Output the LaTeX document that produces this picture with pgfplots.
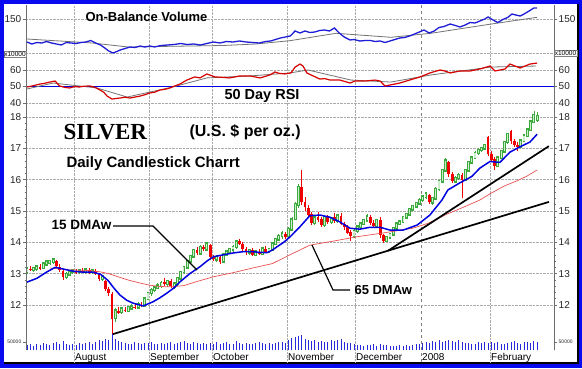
\documentclass[border=0pt]{standalone}
\usepackage{pgfplots}
\pgfplotsset{compat=1.18}
\usepackage{pgfplotstable}
\usepackage{fontspec}
\setmainfont{Liberation Sans}
\newfontfamily\serifbf{Liberation Serif}

\definecolor{frameblue}{RGB}{10,10,240}
\definecolor{upgreen}{RGB}{60,170,60}
\definecolor{upfill}{RGB}{205,238,205}
\definecolor{downred}{RGB}{240,0,0}
\definecolor{mablue}{RGB}{0,0,225}
\definecolor{obvblue}{RGB}{30,30,215}
\definecolor{rsired}{RGB}{215,0,0}
\definecolor{magray}{RGB}{115,115,115}
\definecolor{maredthin}{RGB}{235,80,80}
\definecolor{axisgray}{RGB}{110,110,110}
\definecolor{gridgray}{RGB}{170,170,170}
\definecolor{volblue}{RGB}{40,40,220}

\pgfplotstableread{
x o h l c v
0 13.05 13.20 13.00 13.15 30
1 13.15 13.25 13.08 13.12 35
2 13.12 13.22 13.05 13.18 28
3 13.15 13.28 13.10 13.22 40
4 13.20 13.30 13.12 13.16 33
5 13.18 13.38 13.15 13.32 45
6 13.30 13.42 13.25 13.38 38
7 13.35 13.45 13.28 13.40 30
8 13.38 13.50 13.30 13.44 42
9 13.40 13.45 13.20 13.25 50
10 13.22 13.30 13.05 13.12 36
11 13.10 13.15 12.80 12.88 55
12 12.90 13.05 12.82 12.98 40
13 12.98 13.12 12.92 13.05 33
14 13.05 13.15 12.98 13.10 38
15 13.08 13.15 13.00 13.04 30
16 13.05 13.14 13.00 13.10 45
17 13.10 13.18 13.02 13.06 35
18 13.05 13.16 13.00 13.12 42
19 13.12 13.18 13.00 13.04 48
20 13.05 13.15 12.98 13.10 40
21 13.10 13.15 12.95 13.00 52
22 12.98 13.02 12.78 12.82 60
23 12.85 12.95 12.75 12.90 55
24 12.75 12.80 12.45 12.50 70
25 12.50 12.58 12.30 12.38 65
26 12.35 12.40 11.07 11.55 100
27 11.60 11.90 11.45 11.82 70
28 11.80 11.92 11.70 11.76 55
29 11.78 11.95 11.72 11.88 48
30 11.85 11.95 11.78 11.82 45
31 11.82 11.98 11.78 11.92 40
32 11.90 12.02 11.85 11.95 38
33 11.95 12.05 11.88 11.92 50
34 11.92 12.08 11.88 12.02 42
35 12.00 12.10 11.92 11.98 36
36 11.98 12.25 11.95 12.20 44
37 12.20 12.42 12.15 12.38 45
38 12.38 12.55 12.30 12.48 52
39 12.48 12.62 12.40 12.55 40
40 12.55 12.70 12.50 12.62 38
41 12.62 12.75 12.55 12.70 46
42 12.72 12.85 12.60 12.66 35
43 12.68 12.80 12.58 12.75 42
44 12.75 12.82 12.55 12.60 50
45 12.60 12.72 12.52 12.68 38
46 12.68 12.90 12.62 12.85 44
47 12.85 13.10 12.80 13.05 48
48 13.05 13.25 13.00 13.20 55
49 13.20 13.45 13.15 13.40 42
50 13.40 13.60 13.35 13.55 40
51 13.55 13.80 13.50 13.75 50
52 13.75 13.85 13.60 13.65 45
53 13.65 13.90 13.60 13.85 38
54 13.85 13.92 13.72 13.78 42
55 13.78 14.00 13.75 13.95 40
56 13.90 13.95 13.45 13.52 45
57 13.52 13.60 13.40 13.46 40
58 13.46 13.58 13.38 13.52 52
59 13.52 13.58 13.30 13.38 38
60 13.40 13.65 13.35 13.60 42
61 13.60 13.75 13.55 13.70 48
62 13.70 13.82 13.62 13.78 35
63 13.78 13.90 13.70 13.85 40
64 13.85 14.08 13.80 14.02 55
65 14.05 14.12 13.90 13.95 42
66 13.95 14.00 13.72 13.78 38
67 13.78 13.85 13.60 13.68 45
68 13.68 13.80 13.60 13.75 40
69 13.75 13.82 13.55 13.60 36
70 13.60 13.75 13.55 13.70 44
71 13.70 13.78 13.58 13.64 50
72 13.64 13.85 13.60 13.80 42
73 13.80 13.88 13.65 13.70 38
74 13.70 13.82 13.65 13.78 46
75 13.78 14.00 13.72 13.95 40
76 13.95 14.15 13.90 14.10 44
77 14.10 14.25 14.05 14.20 52
78 14.20 14.35 14.12 14.28 48
79 14.28 14.32 14.10 14.18 45
80 14.20 14.48 14.15 14.42 60
81 14.42 14.80 14.38 14.72 75
82 14.75 15.30 14.70 15.22 80
83 15.20 15.85 15.10 15.75 85
84 15.75 16.30 15.20 15.30 95
85 15.30 15.45 15.00 15.12 70
86 15.10 15.20 14.80 14.88 65
87 14.90 14.98 14.55 14.62 55
88 14.62 14.85 14.55 14.78 60
89 14.80 14.98 14.65 14.70 50
90 14.75 14.80 14.48 14.55 58
91 14.55 14.85 14.50 14.80 52
92 14.80 14.88 14.60 14.66 48
93 14.66 14.82 14.60 14.76 60
94 14.80 14.95 14.62 14.68 55
95 14.68 14.90 14.62 14.85 62
96 14.85 14.92 14.55 14.60 70
97 14.60 14.65 14.40 14.48 50
98 14.48 14.55 14.25 14.30 42
99 14.32 14.40 14.05 14.20 45
100 14.20 14.42 14.15 14.36 35
101 14.36 14.55 14.30 14.50 30
102 14.50 14.65 14.42 14.60 32
103 14.60 14.75 14.55 14.70 28
104 14.70 14.90 14.65 14.82 33
105 14.82 14.88 14.55 14.62 30
106 14.62 14.70 14.45 14.52 35
107 14.52 14.75 14.48 14.70 28
108 14.72 14.80 14.15 14.22 38
109 14.22 14.28 13.98 14.05 32
110 14.05 14.20 14.00 14.16 30
111 14.16 14.30 14.10 14.26 27
112 14.26 14.50 14.22 14.45 25
113 14.45 14.65 14.40 14.60 28
114 14.60 14.72 14.55 14.66 30
115 14.66 14.85 14.62 14.80 26
116 14.80 14.95 14.75 14.90 32
117 14.90 15.10 14.85 15.05 28
118 15.05 15.20 15.00 15.15 34
119 15.15 15.30 15.08 15.25 36
120 15.25 15.40 15.20 15.35 40
121 15.35 15.52 15.30 15.45 45
122 15.45 15.60 15.38 15.55 50
123 15.52 15.55 15.22 15.28 42
124 15.28 15.45 15.20 15.40 55
125 15.40 15.75 15.35 15.70 48
126 15.70 16.00 15.65 15.95 60
127 15.95 16.35 15.90 16.30 52
128 16.30 16.70 16.25 16.60 58
129 16.55 16.60 16.10 16.18 65
130 16.18 16.25 15.88 15.95 55
131 15.95 16.12 15.90 16.05 48
132 16.05 16.22 16.00 16.15 60
133 16.15 16.20 15.40 16.00 50
134 16.00 16.35 15.95 16.30 45
135 16.30 16.60 16.25 16.55 42
136 16.55 16.75 16.50 16.70 38
137 16.70 16.90 16.65 16.85 40
138 16.85 17.00 16.80 16.95 48
139 16.95 17.05 16.88 17.00 44
140 17.00 17.15 16.95 17.10 52
141 17.35 17.40 16.75 16.82 45
142 16.82 16.90 16.55 16.62 50
143 16.65 16.72 16.30 16.45 42
144 16.45 16.75 16.40 16.70 48
145 16.70 16.95 16.65 16.90 40
146 16.90 17.25 16.85 17.20 38
147 17.20 17.50 17.15 17.45 45
148 17.55 17.60 17.15 17.25 50
149 17.25 17.30 17.05 17.10 55
150 17.12 17.20 16.90 17.05 42
151 17.05 17.30 17.00 17.25 40
152 17.25 17.45 17.20 17.40 48
153 17.40 17.65 17.35 17.60 52
154 17.60 17.90 17.55 17.85 45
155 17.85 18.20 17.80 18.05 55
156 17.92 18.15 17.85 18.02 50
}\candles

\pgfplotsset{
  panel/.style={
    scale only axis, width=528pt, height=345pt,
    at={(26pt,18pt)}, anchor=south west,
    xmin=-0.3, xmax=161.16,
    axis x line=none,
    axis line style={axisgray, line width=0.6pt},
    tick align=outside,
    major tick length=3pt, minor tick length=1.5pt,
    tick style={axisgray, line width=0.5pt},
    /pgf/number format/assume math mode=true,
    yticklabel style={font=\fontsize{10}{12}\selectfont, inner sep=1.5pt, text=black!85},
    ymajorgrids, grid style={gridgray, densely dotted, line width=0.5pt},
  },
  leftpanel/.style={panel, axis y line*=left},
  rightpanel/.style={panel, axis y line*=right, ymajorgrids=false},
  candle/.style={draw=none, mark=none, forget plot,
    error bars/y dir=both, error bars/y explicit, error bars/error mark=none},
}

\begin{document}
\begin{tikzpicture}[x=1pt,y=1pt]
\fill[frameblue] (0,0) rectangle (582,368);
\fill[black] (4,4) rectangle (579,364);
\fill[white] (4,6) rectangle (577,364);
\useasboundingbox (0,0) rectangle (582,368);

% base axis: month grid lines and labels
\begin{axis}[
  scale only axis, width=528pt, height=357pt,
  at={(26pt,6pt)}, anchor=south west,
  xmin=-0.3, xmax=161.16, ymin=0, ymax=1,
  axis line style={draw=none},
  ytick=\empty,
  xtick={14.37,37.31,56.57,79.5,100.3,141.6},
  xticklabels={August,September,October,November,December,February},
  extra x ticks={120.5}, extra x tick labels={2008},
  extra x tick style={grid style={gray, dashed, line width=0.6pt}},
  xmajorgrids, grid style={gridgray, densely dotted, line width=0.5pt},
  major tick length=0pt,
  xticklabel style={anchor=base west, font=\fontsize{10}{12}\selectfont, inner sep=0pt, xshift=1pt, yshift=1.5pt},
]
\end{axis}

% volume
\begin{axis}[leftpanel, ymin=0, ymax=2156.25, ytick={50}, yticklabels={50000},
  ymajorgrids=false, axis x line*=bottom, xtick=\empty,
  yticklabel style={font=\fontsize{5}{6}\selectfont}]
\addplot[ycomb, volblue, line width=0.8pt] table[x=x, y=v] {\candles};
\end{axis}

% price
\begin{axis}[leftpanel, ymin=10.563, ymax=21.575, ytick={12,13,...,18}, minor y tick num=4]
% wicks
\addplot[candle, restrict expr to domain={\thisrow{c}-\thisrow{o}}{0:100},
  error bars/error bar style={draw=upgreen, line width=0.7pt}]
  table[x=x, y expr={(\thisrow{h}+\thisrow{l})/2}, y error expr={(\thisrow{h}-\thisrow{l})/2}] {\candles};
\addplot[candle, restrict expr to domain={\thisrow{o}-\thisrow{c}}{0.00001:100},
  error bars/error bar style={draw=downred, line width=0.7pt}]
  table[x=x, y expr={(\thisrow{h}+\thisrow{l})/2}, y error expr={(\thisrow{h}-\thisrow{l})/2}] {\candles};
% bodies
\addplot[candle, restrict expr to domain={\thisrow{c}-\thisrow{o}}{0:100},
  error bars/error bar style={draw=upgreen, line width=2.8pt, line cap=rect}]
  table[x=x, y expr={(\thisrow{o}+\thisrow{c})/2}, y error expr={abs(\thisrow{c}-\thisrow{o})/2}] {\candles};
\addplot[candle, restrict expr to domain={\thisrow{c}-\thisrow{o}}{0:100},
  error bars/error bar style={draw=upfill, line width=1.1pt}]
  table[x=x, y expr={(\thisrow{o}+\thisrow{c})/2}, y error expr={abs(\thisrow{c}-\thisrow{o})/2}] {\candles};
\addplot[candle, restrict expr to domain={\thisrow{o}-\thisrow{c}}{0.00001:100},
  error bars/error bar style={draw=downred, line width=2.8pt}]
  table[x=x, y expr={(\thisrow{o}+\thisrow{c})/2}, y error expr={abs(\thisrow{c}-\thisrow{o})/2}] {\candles};
% 65 DMAw
\addplot[maredthin, line width=0.7pt] coordinates {
(7,13.18) (13,13.12) (19,13.1) (22.3,13.06) (25,13.0) (28.4,12.88) (31.5,12.78)
(34.6,12.7) (37.6,12.63) (40.7,12.59) (44,12.58) (48,12.62) (52,12.75) (57,12.9)
(63,13.03) (69,13.18) (75,13.32) (80.4,13.6) (86.5,13.91) (92.7,14.02) (101,14.18)
(109,14.3) (118,14.45) (123,14.62) (128,14.88) (133,15.1) (138.5,15.35) (141.6,15.55)
(146,15.8) (150,15.97) (153,16.12) (156,16.31)};
% 15 DMAw
\addplot[mablue, line width=1.5pt] coordinates {
(0,12.73) (3,12.85) (6,13.05) (8.6,13.2) (11,13.15) (14,13.08) (17,13.05) (20,13.05)
(22.5,12.98) (24.8,12.78) (26.5,12.55) (28.4,12.32) (30.5,12.15) (32.4,12.06) (35.5,11.97)
(38.5,12.1) (40.5,12.22) (42.8,12.38) (45,12.55) (46.8,12.74) (49.8,13.0) (52.9,13.22)
(55,13.4) (57,13.54) (60,13.6) (63,13.66) (66,13.7) (69,13.7) (71,13.68) (73.4,13.67)
(75,13.75) (76.5,13.86) (78.5,14.0) (80.4,14.17) (83.5,14.5) (86.5,14.85) (89.6,14.87)
(92.7,14.8) (95.7,14.65) (98.8,14.45) (101.8,14.42) (104.9,14.48) (108,14.48) (111,14.39)
(115,14.39) (119.3,14.55) (123.2,14.87) (126.9,15.35) (128.7,15.67) (132.4,15.9)
(136,16.1) (138.5,16.37) (141.6,16.58) (144.6,16.55) (147.7,16.88) (150.8,17.05)
(153.8,17.2) (156,17.45)};
% trend lines
\addplot[black, line width=1.7pt] coordinates {(26.3,11.07) (159.6,15.29)};
\addplot[black, line width=1.7pt] coordinates {(110.4,13.73) (159.6,17.07)};
\end{axis}

% RSI
\begin{axis}[leftpanel, ymin=-109.70, ymax=99.39, ytick={40,50,60}]
\addplot[mablue, line width=1pt] coordinates {(-0.3,50) (161.16,50)};
\addplot[magray, line width=0.8pt] coordinates {
(0,48.5) (8,52.1) (21.4,49.1) (30.6,43.6) (44.6,49.7) (55,55.2) (68.2,56.4) (80.4,58.2)
(85.9,60.0) (99.1,53.9) (111.3,52.7) (123.5,57.0) (141.9,61.8) (155.7,62.4)};
\addplot[rsired, line width=1.2pt] coordinates {
(0,49.7) (2,50.5) (4,51.5) (5.5,52.0) (7,52.7) (8.6,53.3) (10,50.3) (11.5,49.5) (13,49.1)
(14.5,49.9) (16,49.7) (17.5,50.2) (19.3,50.3) (20.8,49.5) (22.3,47.9) (23.5,46.5) (24.5,44.2)
(26,42.4) (27.5,42.8) (28.4,43.0) (30,43.5) (31.5,43.0) (33,43.6) (34.6,44.2) (36,45.0)
(37.6,46.1) (39,46.5) (40.7,47.9) (42,48.2) (43.7,49.1) (45,50.2) (46.8,51.5) (48.9,53.9)
(51.3,55.8) (52.9,55.2) (55,57.6) (57.5,55.8) (60,55.5) (62,55.2) (65.1,56.4) (68.2,56.4)
(71.3,55.2) (74.3,57.0) (75.8,58.8) (77,58.0) (78.8,57.6) (80.7,58.2) (82,61.8) (83.5,63.6)
(84.4,62.4) (85.6,58.2) (87.5,56.4) (89.6,54.5) (91,54.8) (92.7,53.9) (95.7,53.9) (98.8,52.1)
(100.3,53.3) (103.3,53.3) (106.4,53.9) (108,53.3) (109.5,50.3) (111,50.9) (114,52.1)
(117,53.9) (120.2,55.8) (123.2,58.2) (126.3,60.0) (127.8,59.4) (129.4,58.2) (132.4,59.4)
(135.5,59.4) (138.5,60.6) (141.6,62.4) (143.1,59.4) (146.2,60.6) (147.7,63.6) (150.8,61.2)
(153.8,63.6) (156,64.2)};
\end{axis}

% OBV
\begin{axis}[leftpanel, ymin=-181, ymax=164, ytick={150}, extra y ticks={116}, extra y tick labels={},
  extra y tick style={major tick length=0pt}]
\addplot[magray, line width=0.8pt] coordinates {
(0,130) (10,128) (20,126) (31,122) (40,122.5) (50,123) (60,123.5) (70,125) (80.4,128.3)
(94.5,135.7) (111.3,131.7) (123.5,135.7) (140,144) (156,151.7)};
\addplot[obvblue, line width=1.3pt] coordinates {
(0,127) (1.5,125) (3,126.5) (4.5,126) (6,127.5) (7.5,126) (9,125) (10.5,124) (12,126.5)
(13.5,126) (15,125.5) (16.5,126.5) (18,127) (19.5,128.5) (21,126) (22.5,124) (24,120.5)
(25,118) (26.3,116) (27.5,117.5) (28.5,119) (30,120.5) (31.5,122) (33,121.5) (34.6,123)
(36,122) (37.6,123) (39,122) (41,123.5) (43,124) (45,124.5) (47,125.5) (49,124.5) (51,125)
(53,124) (55,125.5) (57,127) (59,126) (61,127.5) (63,127) (65,128) (67,127) (69,126.5)
(71,126) (73,127.5) (74.5,128) (76,129.5) (77.5,131) (79,132) (80.5,133) (82,138) (83.5,136)
(85,138) (86.5,136.5) (88,137) (89.5,138.5) (91,139) (92.5,138) (94,141) (95.5,136) (97,132)
(98.8,129) (100,129.5) (101.8,128) (103.5,128.5) (105,128.5) (106.5,127.5) (108,128)
(109.5,126.5) (111,128) (112.5,129.5) (114,131) (115.5,131.5) (117,133) (118.5,135) (120,137)
(121.4,139) (123,136) (124.5,138) (126,141.5) (127.5,142.5) (129.4,145) (131,143.5)
(132.4,142) (134,144) (135.5,146.5) (137,146) (138.5,148) (140,150) (141,152) (142.5,149)
(144,146.5) (145.5,149.5) (147,151.5) (148.3,155) (149.5,154) (150.8,153) (152,155)
(153.8,158.5) (155,161) (156,161)};
\end{axis}

% right-hand tick labels
\begin{axis}[rightpanel, ymin=-181, ymax=164, ytick={150}]
\end{axis}
\begin{axis}[rightpanel, ymin=-109.70, ymax=99.39, ytick={40,50,60}]
\end{axis}
\begin{axis}[rightpanel, ymin=10.563, ymax=21.575, ytick={12,13,...,18}, minor y tick num=4]
\end{axis}
\begin{axis}[rightpanel, ymin=0, ymax=2156.25, ytick={50}, yticklabels={50000},
  yticklabel style={font=\fontsize{5}{6}\selectfont}]
\end{axis}

% texts
\node[draw=gray, fill=white, inner sep=0.6pt, font=\fontsize{6.5}{7}\selectfont, anchor=east] at (26.5,314) {x10000};
\node[draw=gray, fill=white, inner sep=0.6pt, font=\fontsize{6.5}{7}\selectfont, anchor=west] at (554,315) {x10000};
\node[anchor=west, font=\fontsize{13}{15}\selectfont\bfseries] at (82,351) {On-Balance Volume};
\node[font=\fontsize{14.5}{16}\selectfont\bfseries] at (262,272) {50 Day RSI};
\node[anchor=west, font=\serifbf\fontsize{23}{26}\selectfont\bfseries] at (60,236) {SILVER};
\node[anchor=west, font=\fontsize{16}{18}\selectfont\bfseries] at (186,236) {(U.S. \$ per oz.)};
\node[anchor=west, font=\fontsize{15}{17}\selectfont\bfseries] at (63,204) {Daily Candlestick Charrt};
\node[anchor=west, font=\fontsize{13.5}{15}\selectfont\bfseries] at (48,143) {15 DMAw};
\draw[black, line width=1.2pt] (113,142) -- (153,142) -- (197,98);
\node[anchor=west, font=\fontsize{13}{15}\selectfont\bfseries] at (351,78) {65 DMAw};
\draw[black, line width=1.2pt] (312,123) -- (333,78) -- (350,78);
\end{tikzpicture}
\end{document}
